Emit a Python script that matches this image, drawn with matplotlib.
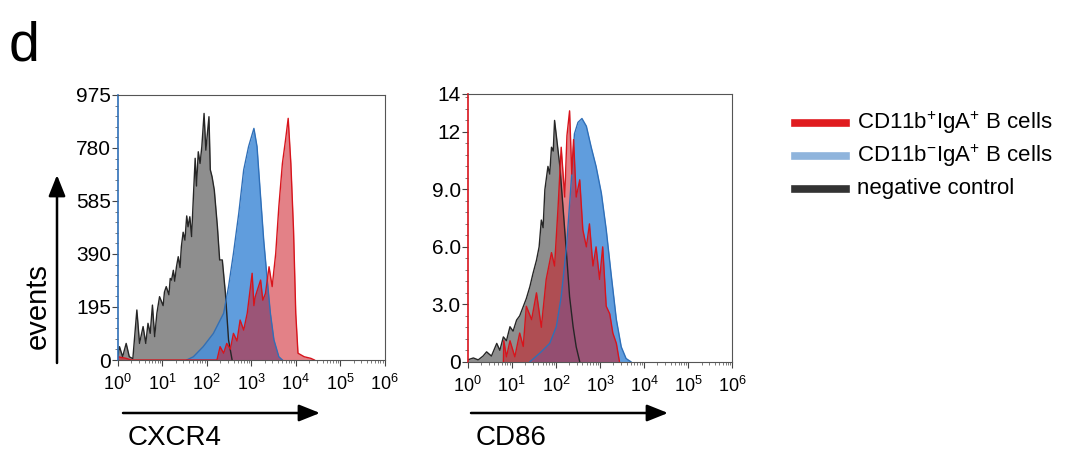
import matplotlib
matplotlib.use("Agg")
import matplotlib.pyplot as plt
from matplotlib.patches import FancyArrowPatch
from matplotlib.lines import Line2D
from matplotlib.ticker import AutoMinorLocator, FixedLocator, LogLocator, NullFormatter
import numpy as np

plt.rcParams["font.family"] = ["Liberation Sans", "DejaVu Sans"]
plt.rcParams["mathtext.fontset"] = "custom"
plt.rcParams["mathtext.rm"] = "Liberation Sans"
plt.rcParams["mathtext.it"] = "Liberation Sans"

# --- CXCR4 panel (x given as log10 of fluorescence) ---
cxcr4_neg_exp = [0.00, 0.04, 0.11, 0.19, 0.26, 0.34, 0.43, 0.49, 0.57, 0.63, 0.68, 0.73, 0.78, 0.83,
                 0.88, 0.94, 1.02, 1.05, 1.09, 1.15, 1.18, 1.21, 1.25, 1.28, 1.32, 1.36, 1.40, 1.43,
                 1.47, 1.51, 1.55, 1.58, 1.62, 1.66, 1.70, 1.74, 1.77, 1.81, 1.85, 1.89, 1.94, 1.98,
                 2.05, 2.08, 2.12, 2.17, 2.24, 2.29, 2.35, 2.42, 2.49, 2.57]
cxcr4_neg = [10, 49, 12, 61, 12, 5, 184, 61, 123, 61, 135, 98, 202, 86,
             172, 233, 200, 250, 270, 240, 300, 294, 330, 290, 343, 380, 340, 417,
             470, 441, 530, 490, 527, 454, 600, 742, 640, 766, 723, 785, 907, 772,
             895, 700, 674, 625, 490, 368, 368, 245, 74, 0]
cxcr4_blue_exp = [1.55, 1.70, 1.92, 2.15, 2.38, 2.49, 2.60, 2.72, 2.83, 2.94, 3.06, 3.13, 3.21,
                  3.28, 3.36, 3.43, 3.51, 3.62, 3.70]
cxcr4_cd11b_neg = [0, 12, 49, 98, 172, 270, 392, 540, 699, 785, 852, 785, 600,
                   441, 294, 172, 74, 12, 0]
cxcr4_pos_exp = [0.00, 0.19, 0.30, 2.23, 2.30, 2.38, 2.45, 2.53, 2.60, 2.68, 2.75, 2.83, 2.91, 3.02,
                 3.06, 3.09, 3.21, 3.26, 3.32, 3.40, 3.47, 3.55, 3.62, 3.70, 3.77, 3.83, 3.89, 3.95,
                 4.00, 4.05, 4.19, 4.34, 4.42]
cxcr4_cd11b_pos = [12, 6, 0, 0, 49, 25, 61, 40, 98, 70, 147, 110, 172, 319,
                   200, 233, 294, 220, 245, 343, 270, 392, 564, 723, 809, 889, 723, 478,
                   172, 25, 12, 6, 0]

# --- CD86 panel ---
cd86_neg_exp = [0.00, 0.13, 0.24, 0.35, 0.43, 0.54, 0.66, 0.73, 0.81, 0.88, 0.96, 1.03, 1.11, 1.18,
                1.26, 1.33, 1.41, 1.48, 1.56, 1.62, 1.67, 1.71, 1.75, 1.82, 1.86, 1.90, 1.94, 1.97,
                2.01, 2.09, 2.16, 2.24, 2.31, 2.39, 2.46, 2.54]
cd86_neg = [0.1, 0.2, 0.1, 0.3, 0.52, 0.3, 0.96, 0.6, 1.3, 1.1, 1.83, 1.6, 2.18, 2.4,
            2.88, 3.3, 3.92, 4.6, 5.3, 6.0, 7.4, 7.0, 8.98, 10.2, 9.8, 11.2, 11.0, 12.6,
            11.8, 10.2, 8.1, 5.66, 3.4, 1.83, 0.78, 0.0]
cd86_blue_exp = [1.41, 1.63, 1.86, 2.01, 2.12, 2.24, 2.35, 2.42, 2.50, 2.59, 2.69, 2.80, 2.91,
                 3.03, 3.14, 3.25, 3.37, 3.48, 3.59, 3.70]
cd86_cd11b_neg = [0.0, 0.44, 0.96, 1.83, 3.4, 6.0, 9.5, 11.9, 12.5, 12.7, 12.3, 11.2, 10.2,
                  8.8, 6.9, 4.6, 2.2, 0.78, 0.17, 0.0]
cd86_red_exp = [0.81, 0.82, 0.88, 0.96, 1.07, 1.18, 1.26, 1.33, 1.45, 1.56, 1.67, 1.78, 1.90, 1.97,
                2.05, 2.12, 2.20, 2.25, 2.31, 2.36, 2.40, 2.46, 2.54, 2.61, 2.69, 2.76, 2.84, 2.91,
                2.99, 3.06, 3.14, 3.22, 3.29, 3.37, 3.44]
cd86_cd11b_pos = [0.0, 1.1, 0.26, 1.1, 0.26, 1.5, 0.8, 2.9, 2.2, 3.6, 1.8, 4.3, 5.7, 5.0,
                  8.1, 11.2, 8.6, 11.8, 13.1, 9.8, 11.6, 8.6, 9.5, 6.9, 6.0, 7.2, 5.0, 6.0,
                  4.3, 6.0, 2.9, 2.5, 1.5, 0.96, 0.0]

cxcr4_yticks = [0, 195, 390, 585, 780, 975]
cd86_yticks = [0, 3.0, 6.0, 9.0, 12, 14]
cd86_ytick_labels = ["0", "3.0", "6.0", "9.0", "12", "14"]
legend_labels = [r"CD11b$^{+}$IgA$^{+}$ B cells", r"CD11b$^{-}$IgA$^{+}$ B cells", "negative control"]

GRAY_FILL, GRAY_EDGE = "#7a7a7a", "#262626"
BLUE_FILL, BLUE_EDGE = "#4a90d9", "#2f6fb8"
RED_FILL, RED_EDGE = "#cc1a24", "#d8141c"


def draw_hist(ax, exps, vals, fill, edge, alpha):
    x = 10 ** np.asarray(exps)
    ax.fill_between(x, 0, vals, color=fill, alpha=alpha, lw=0)
    ax.plot(x, vals, color=edge, lw=1.0)


def style_axes(ax, yticks, ylabels, ymax, left_color):
    ax.set_xscale("log")
    ax.set_xlim(1, 1e6)
    ax.set_ylim(0, ymax)
    ax.xaxis.set_minor_locator(LogLocator(base=10, subs=np.arange(2, 10), numticks=10))
    ax.xaxis.set_minor_formatter(NullFormatter())
    ax.set_xticks([10 ** k for k in range(7)])
    ax.set_xticklabels([rf"$10^{{{k}}}$" for k in range(7)], fontsize=13)
    ax.yaxis.set_major_locator(FixedLocator(yticks))
    ax.set_yticklabels(ylabels, fontsize=15)
    ax.yaxis.set_minor_locator(AutoMinorLocator(5))
    ax.tick_params(axis="both", which="major", length=4, width=0.8, color="#444444")
    ax.tick_params(axis="y", which="major", pad=1)
    ax.tick_params(axis="x", which="major", pad=6)
    ax.tick_params(axis="both", which="minor", length=2, width=0.6, color="#666666")
    for s in ax.spines.values():
        s.set_color("#555555")
        s.set_linewidth(0.8)
    ax.spines["left"].set_color(left_color)
    ax.spines["left"].set_linewidth(1.2)


def fig_arrow(fig, p0, p1):
    fig.add_artist(FancyArrowPatch((p0[0] / 1090, 1 - p0[1] / 450), (p1[0] / 1090, 1 - p1[1] / 450),
                                   transform=fig.transFigure, arrowstyle="-|>,head_length=0.8,head_width=0.32",
                                   mutation_scale=16, color="black", lw=1.8, shrinkA=0, shrinkB=0))


fig = plt.figure(figsize=(10.9, 4.5), dpi=100)
ax1 = fig.add_axes([0.108, 0.2, 0.245, 0.589])
ax2 = fig.add_axes([0.429, 0.196, 0.243, 0.596])

draw_hist(ax1, cxcr4_neg_exp, cxcr4_neg, GRAY_FILL, GRAY_EDGE, 0.85)
draw_hist(ax1, cxcr4_blue_exp, cxcr4_cd11b_neg, BLUE_FILL, BLUE_EDGE, 0.88)
draw_hist(ax1, cxcr4_pos_exp, cxcr4_cd11b_pos, RED_FILL, RED_EDGE, 0.55)
style_axes(ax1, cxcr4_yticks, [str(v) for v in cxcr4_yticks], 975, BLUE_EDGE)

draw_hist(ax2, cd86_neg_exp, cd86_neg, GRAY_FILL, GRAY_EDGE, 0.85)
draw_hist(ax2, cd86_blue_exp, cd86_cd11b_neg, BLUE_FILL, BLUE_EDGE, 0.88)
draw_hist(ax2, cd86_red_exp, cd86_cd11b_pos, RED_FILL, RED_EDGE, 0.55)
style_axes(ax2, cd86_yticks, cd86_ytick_labels, 14, RED_EDGE)

# panel letter
fig.text(0.008, 0.955, "d", fontsize=40, va="top", ha="left")

# "events" arrow + label
fig_arrow(fig, (57, 363), (57, 175))
fig.text(38 / 1090, 1 - 306 / 450, "events", rotation=90, fontsize=21, ha="center", va="center")

# x-axis arrows + labels
for x0, x1, label in [(123, 320, "CXCR4"), (471, 668, "CD86")]:
    fig_arrow(fig, (x0, 413), (x1, 413))
    fig.text((x0 + 5) / 1090, 1 - 438 / 450, label, fontsize=20, ha="left", va="center")

# legend
for i, (label, col) in enumerate(zip(legend_labels, ["#e01b1f", "#8fb4dc", "#333333"])):
    y = 1 - (123 + i * 33) / 450
    fig.add_artist(Line2D([795 / 1090, 846 / 1090], [y, y], color=col, lw=5.5, transform=fig.transFigure))
    fig.text(857 / 1090, y, label, fontsize=16, ha="left", va="center")

fig.savefig("out.png", dpi=100)
